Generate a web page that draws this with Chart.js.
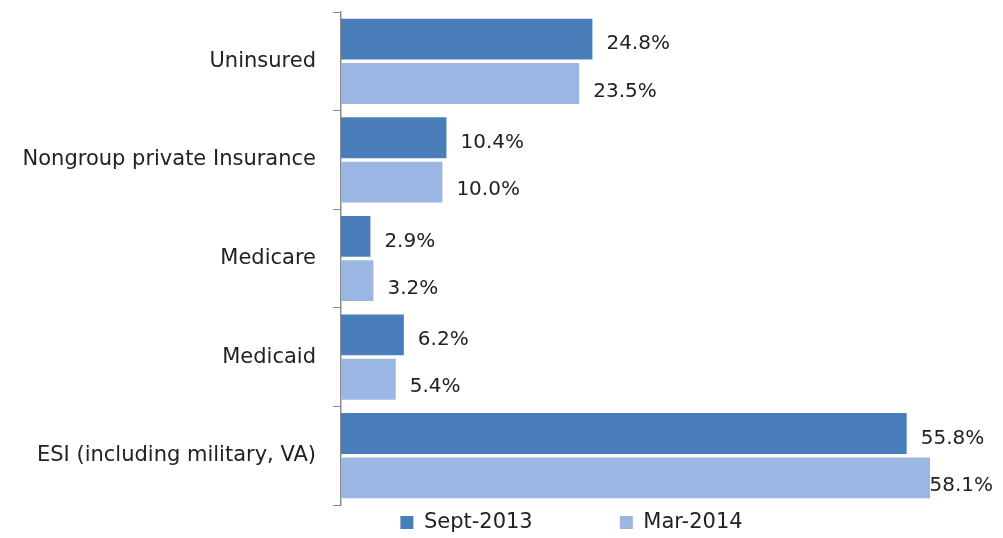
<!DOCTYPE html>
<html>
<head>
<meta charset="utf-8">
<script src="https://cdn.jsdelivr.net/npm/chart.js@4"></script>
<style>
  html, body { margin: 0; padding: 0; background: #fff; }
  #wrap { width: 1003px; height: 538px; }
</style>
</head>
<body>
<div id="wrap"><canvas id="barChart" width="1003" height="538"></canvas></div>
<script>
const categories = ['Uninsured', 'Nongroup private Insurance', 'Medicare', 'Medicaid', 'ESI (including military, VA)'];
const sept2013 = [24.8, 10.4, 2.9, 6.2, 55.8];
const mar2014 = [23.5, 10.0, 3.2, 5.4, 58.1];
const seriesNames = ['Sept-2013', 'Mar-2014'];

// draws the value text to the right of each bar
const valueLabels = {
    id: 'valueLabels',
    afterLayout(chart) {
        // legend is centred under the plot, not the whole canvas
        chart.legend.left = 140;
    },
    afterDatasetsDraw(chart) {
        const ctx = chart.ctx;
        ctx.save();
        ctx.font = '20px "DejaVu Sans"';
        ctx.fillStyle = '#222';
        ctx.textBaseline = 'middle';
        chart.data.datasets.forEach((ds, i) => {
            const meta = chart.getDatasetMeta(i);
            meta.data.forEach((bar, j) => {
                const txt = ds.data[j].toFixed(1) + '%';
                // squeeze in against the right edge when there is no room
                const x = Math.min(bar.x + 14, chart.width - ctx.measureText(txt).width - 10);
                ctx.fillText(txt, x, bar.y + (i === 0 ? 5 : 8));
            });
        });
        ctx.restore();
    }
};

const ctx = document.getElementById('barChart').getContext('2d');
new Chart(ctx, {
    type: 'bar',
    data: {
        labels: categories,
        datasets: [{
            // trailing spaces keep the wide gap between the two legend items
            label: seriesNames[0] + '            ',
            data: sept2013,
            backgroundColor: '#4a7ebb',
            categoryPercentage: 0.9,
            barPercentage: 0.92
        }, {
            label: seriesNames[1],
            data: mar2014,
            backgroundColor: '#9bb6e2',
            categoryPercentage: 0.9,
            barPercentage: 0.92
        }]
    },
    options: {
        indexAxis: 'y',
        responsive: false,
        animation: false,
        layout: { padding: { top: 12, right: 0, left: 0, bottom: -5 } },
        scales: {
            x: {
                display: false,
                min: 0,
                max: 65.3
            },
            y: {
                afterFit(scale) {
                    scale.width = 341;
                    scale.paddingTop = 0;
                    scale.paddingBottom = 0;
                },
                border: { display: true, color: '#8c8c8c', width: 1.5 },
                grid: { drawOnChartArea: false, color: '#8c8c8c', tickLength: 8, offset: true },
                ticks: { color: '#222', font: { family: 'DejaVu Sans', size: 21 }, padding: 17 }
            }
        },
        plugins: {
            legend: {
                position: 'bottom',
                labels: {
                    color: '#222',
                    font: { family: 'DejaVu Sans', size: 21 },
                    boxWidth: 13,
                    boxHeight: 13,
                    padding: 7
                }
            },
            tooltip: { enabled: false }
        }
    },
    plugins: [valueLabels]
});
</script>
</body>
</html>
